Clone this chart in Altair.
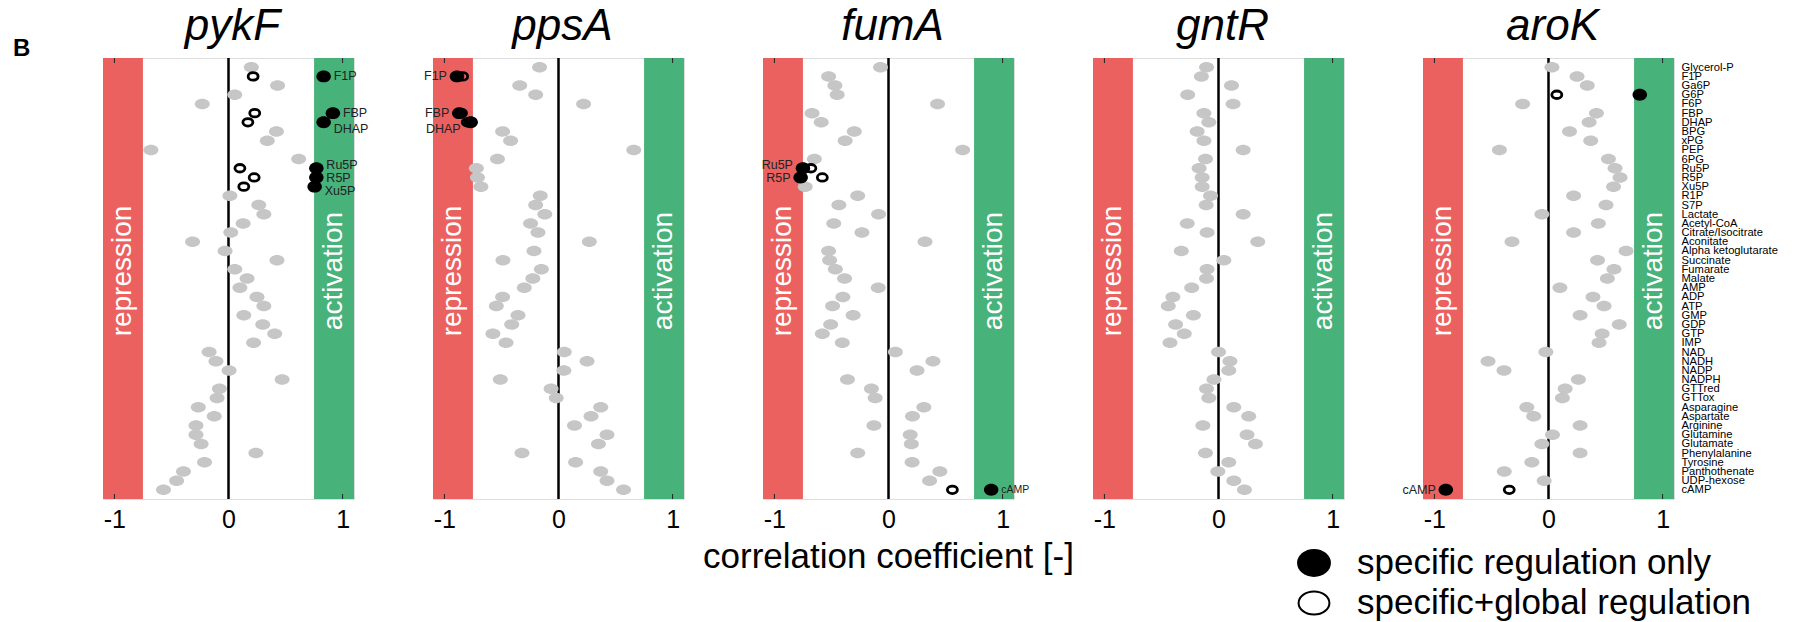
import altair as alt
import pandas as pd

# ---------------- data ----------------
METABOLITES = [
    "Glycerol-P", "F1P", "Ga6P", "G6P", "F6P", "FBP", "DHAP", "BPG", "xPG", "PEP",
    "6PG", "Ru5P", "R5P", "Xu5P", "R1P", "S7P", "Lactate", "Acetyl-CoA",
    "Citrate/Isocitrate", "Aconitate", "Alpha ketoglutarate", "Succinate",
    "Fumarate", "Malate", "AMP", "ADP", "ATP", "GMP", "GDP", "GTP", "IMP", "NAD",
    "NADH", "NADP", "NADPH", "GTTred", "GTTox", "Asparagine", "Aspartate",
    "Arginine", "Glutamine", "Glutamate", "Phenylalanine", "Tyrosine",
    "Panthothenate", "UDP-hexose", "cAMP",
]

GENES = ["pykF", "ppsA", "fumA", "gntR", "aroK"]

pykF_gray = [0.20, None, 0.43, 0.055, -0.23, None, None, 0.42, 0.34, -0.68,
             0.615, None, None, None, 0.012, 0.265, 0.31, 0.128, 0.02, -0.315,
             -0.03, 0.425, 0.055, 0.163, 0.10, 0.25, 0.31, 0.134, 0.30, 0.405,
             0.22, -0.17, -0.11, 0.005, 0.47, -0.08, -0.10, -0.265, -0.125, -0.285,
             -0.285, -0.24, 0.24, -0.21, -0.395, -0.455, -0.57]
ppsA_gray = [-0.166, None, -0.34, -0.20, 0.22, None, None, -0.49, -0.42, 0.66,
             -0.535, -0.72, -0.71, -0.68, -0.16, -0.20, -0.12, -0.245, -0.18, 0.27,
             -0.215, -0.487, -0.15, -0.225, -0.30, -0.49, -0.545, -0.355, -0.41, -0.575,
             -0.46, 0.05, 0.25, 0.047, -0.51, -0.065, -0.02, 0.37, 0.285, 0.14,
             0.425, 0.35, -0.32, 0.15, 0.37, 0.425, 0.57]
fumA_gray = [-0.07, -0.525, -0.47, -0.45, 0.43, -0.67, -0.59, -0.30, -0.38, 0.65,
             -0.65, None, None, -0.73, -0.27, -0.435, -0.087, -0.48, -0.233, 0.32,
             -0.525, -0.516, -0.466, -0.385, -0.09, -0.40, -0.49, -0.31, -0.507, -0.58,
             -0.405, 0.06, 0.39, 0.25, -0.36, -0.15, -0.117, 0.31, 0.21, -0.128,
             0.19, 0.20, -0.27, 0.207, 0.45, 0.36, None]
gntR_gray = [-0.105, -0.15, 0.114, -0.27, 0.128, -0.128, -0.085, -0.187, -0.128, 0.216,
             -0.114, -0.17, -0.143, -0.143, -0.07, -0.108, 0.216, -0.274, -0.10, 0.344,
             -0.326, 0.047, -0.10, -0.105, -0.235, -0.40, -0.44, -0.22, -0.376, -0.30,
             -0.425, 0.0, 0.10, 0.09, -0.04, -0.105, -0.085, 0.134, 0.265, -0.137,
             0.25, 0.324, -0.114, 0.09, -0.006, 0.134, 0.227]
aroK_gray = [0.03, 0.25, 0.34, None, -0.227, 0.42, 0.356, 0.184, 0.37, -0.43,
             0.525, 0.583, 0.627, 0.57, 0.22, 0.504, -0.058, 0.437, 0.22, -0.32,
             0.68, 0.43, 0.574, 0.516, 0.10, 0.39, 0.487, 0.277, 0.62, 0.47,
             0.443, -0.023, -0.53, -0.39, 0.262, 0.146, 0.122, -0.19, -0.13, 0.277,
             0.035, -0.058, 0.277, -0.146, -0.388, -0.038, None]
GRAY = {"pykF": pykF_gray, "ppsA": ppsA_gray, "fumA": fumA_gray,
        "gntR": gntR_gray, "aroK": aroK_gray}

# specific regulation (filled) and specific+global regulation (open)
SPEC_GENE = ["pykF"] * 6 + ["ppsA"] * 3 + ["fumA"] * 3 + ["aroK"] * 2
SPEC_METAB = ["F1P", "FBP", "DHAP", "Ru5P", "R5P", "Xu5P",
              "F1P", "FBP", "DHAP",
              "Ru5P", "R5P", "cAMP",
              "G6P", "cAMP"]
SPEC_ONLY = [0.834, 0.915, 0.834, 0.77, 0.77, 0.755,
             -0.89, -0.87, -0.77,
             -0.75, -0.77, 0.90,
             0.80, -0.90]
SPEC_GLOBAL = [0.216, 0.23, 0.17, 0.10, 0.225, 0.134,
               -0.84, -0.85, -0.80,
               -0.68, -0.58, 0.56,
               0.073, -0.344]
SPEC_LABEL_SIDE = ["right"] * 6 + ["left"] * 3 + ["left", "left", "right"] + ["", "left"]

BANDS = ["repression", "activation"]
BAND_START = [-1.1, 0.75]
BAND_END = [-0.75, 1.1]
X_TICKS = [-1, 0, 1]
INNER_TICKS = [-1, 1]
LEGEND_LABELS = ["specific regulation only", "specific+global regulation"]

# ---------------- style ----------------
FONT = "Liberation Sans"
W, H = 251, 441
RED, GREEN, GRAYC = "#EB6160", "#47B27A", "#C6C6C6"
ELL_GRAY = "M-1,0A1,0.7,0,1,1,1,0A1,0.7,0,1,1,-1,0Z"
ELL_BLACK = "M-1,0A1,0.82,0,1,1,1,0A1,0.82,0,1,1,-1,0Z"
ELL_OPEN = "M-1,0A1,0.75,0,1,1,1,0A1,0.75,0,1,1,-1,0Z"
LABEL_DY = {"DHAP": 7, "Xu5P": 4, "Ru5P": -3, "R5P": 1}
SMALL_LABEL = {("fumA", "cAMP")}

XSCALE = alt.Scale(domain=[-1.1, 1.1], nice=False, zero=False)
XAXIS = alt.Axis(values=X_TICKS, labelExpr="datum.value + ''", ticks=False,
                 domain=False, grid=False, title=None, labelFontSize=25,
                 labelFont=FONT, labelColor="black", labelPadding=8)


def X(field):
    return alt.X(f"{field}:Q", scale=XSCALE, axis=XAXIS)


def Y(last):
    if last:
        axis = alt.Axis(orient="right", title=None, ticks=False, domain=False,
                        grid=False, labelFontSize=11.2, labelFont=FONT,
                        labelColor="black", labelPadding=7, labelOverlap=False)
    else:
        axis = None
    return alt.Y("metabolite:N",
                 scale=alt.Scale(type="point", domain=METABOLITES, padding=1),
                 axis=axis)


spec_df = pd.DataFrame({"gene": SPEC_GENE, "metabolite": SPEC_METAB,
                        "only": SPEC_ONLY, "glob": SPEC_GLOBAL,
                        "side": SPEC_LABEL_SIDE})
bands_df = pd.DataFrame({"kind": BANDS, "start": BAND_START, "end": BAND_END})


def panel(gene, idx):
    last = idx == len(GENES) - 1
    layers = []
    layers.append(
        alt.Chart(bands_df).mark_rect().encode(
            x=X("start"), x2="end", y=alt.value(0), y2=alt.value(H),
            color=alt.Color("kind:N", scale=alt.Scale(domain=BANDS, range=[RED, GREEN]),
                            legend=None)))
    layers.append(
        alt.Chart(bands_df).transform_calculate(mid="(datum.start + datum.end) / 2")
        .mark_text(angle=270, color="white", fontSize=28, font=FONT,
                   align="center", baseline="middle")
        .encode(x=X("mid"), y=alt.value(213), text="kind:N"))
    layers.append(
        alt.Chart(pd.DataFrame({"z": [0]})).mark_rule(color="black", strokeWidth=2.5)
        .encode(x=X("z")))
    tick_df = pd.DataFrame({"t": INNER_TICKS})
    layers.append(alt.Chart(tick_df).mark_rule(color="#222", strokeWidth=1)
                  .encode(x=X("t"), y=alt.value(0), y2=alt.value(5)))
    layers.append(alt.Chart(tick_df).mark_rule(color="#222", strokeWidth=1)
                  .encode(x=X("t"), y=alt.value(H - 5), y2=alt.value(H)))

    gdf = pd.DataFrame({"metabolite": METABOLITES, "r": GRAY[gene]}).dropna()
    layers.append(alt.Chart(gdf).mark_point(shape=ELL_GRAY, filled=True, size=225,
                                            color=GRAYC, opacity=1)
                  .encode(x=X("r"), y=Y(last)))
    sdf = spec_df[spec_df.gene == gene]
    if len(sdf):
        layers.append(alt.Chart(sdf).mark_point(shape=ELL_OPEN, filled=False, size=100,
                                                color="black", strokeWidth=2.8, opacity=1)
                      .encode(x=X("glob"), y=Y(last)))
        layers.append(alt.Chart(sdf).mark_point(shape=ELL_BLACK, filled=True, size=210,
                                                color="black", opacity=1)
                      .encode(x=X("only"), y=Y(last)))
        for _, row in sdf.iterrows():
            if not row.side:
                continue
            small = (gene, row.metabolite) in SMALL_LABEL
            right = row.side == "right"
            layers.append(
                alt.Chart(pd.DataFrame([row])).mark_text(
                    align="left" if right else "right", baseline="middle",
                    dx=10 if right else -10,
                    dy=0 if small else LABEL_DY.get(row.metabolite, 0),
                    fontSize=10.5 if small else 12.5, font=FONT, color="#222")
                .encode(x=X("only"), y=Y(last), text="metabolite:N"))

    layers.append(
        alt.Chart(pd.DataFrame({"gene": [gene]})).mark_text(
            fontSize=44, fontStyle="italic", font=FONT, align="center",
            baseline="alphabetic", color="black", dx=4)
        .encode(x=alt.value(W / 2), y=alt.value(-18), text="gene:N"))

    if idx == 0:
        layers.append(alt.Chart(pd.DataFrame({"a": [0]})).mark_rule(opacity=0)
                      .encode(x=alt.value(-102), x2=alt.value(-102),
                              y=alt.value(-57), y2=alt.value(-56)))
        layers.append(alt.Chart(pd.DataFrame({"t": ["B"]})).mark_text(
            fontSize=24, fontWeight="bold", font=FONT, align="left",
            baseline="alphabetic", color="black")
            .encode(x=alt.value(-90), y=alt.value(-2), text="t:N"))
    if idx == 2:
        layers.append(alt.Chart(pd.DataFrame({"t": ["correlation coefficient [-]"]}))
                      .mark_text(fontSize=35, font=FONT, align="center",
                                 baseline="middle", color="black")
                      .encode(x=alt.value(W / 2), y=alt.value(499), text="t:N"))
    if last:
        ldf0 = pd.DataFrame({"t": [LEGEND_LABELS[0]]})
        ldf1 = pd.DataFrame({"t": [LEGEND_LABELS[1]]})
        layers.append(alt.Chart(ldf0).mark_point(shape=ELL_BLACK, filled=True,
                                                 size=1150, color="black", opacity=1)
                      .encode(x=alt.value(-109), y=alt.value(505)))
        layers.append(alt.Chart(ldf1).mark_point(shape=ELL_OPEN, filled=False,
                                                 size=950, color="black",
                                                 strokeWidth=2, opacity=1)
                      .encode(x=alt.value(-109), y=alt.value(545)))
        for ldf, yy in ((ldf0, 505), (ldf1, 545)):
            layers.append(alt.Chart(ldf).mark_text(fontSize=35, font=FONT,
                                                   align="left", baseline="middle",
                                                   color="black")
                          .encode(x=alt.value(-66), y=alt.value(yy), text="t:N"))

    return alt.layer(*layers).properties(width=W, height=H)


panels = [panel(g, i) for i, g in enumerate(GENES)]
chart = alt.hconcat(*panels, spacing=79, bounds="flush", padding=0).configure_view(
    stroke="#1a1a1a", strokeWidth=1.6).configure(background="white")

chart.save("out.html", embed_options={"renderer": "svg", "actions": False})
